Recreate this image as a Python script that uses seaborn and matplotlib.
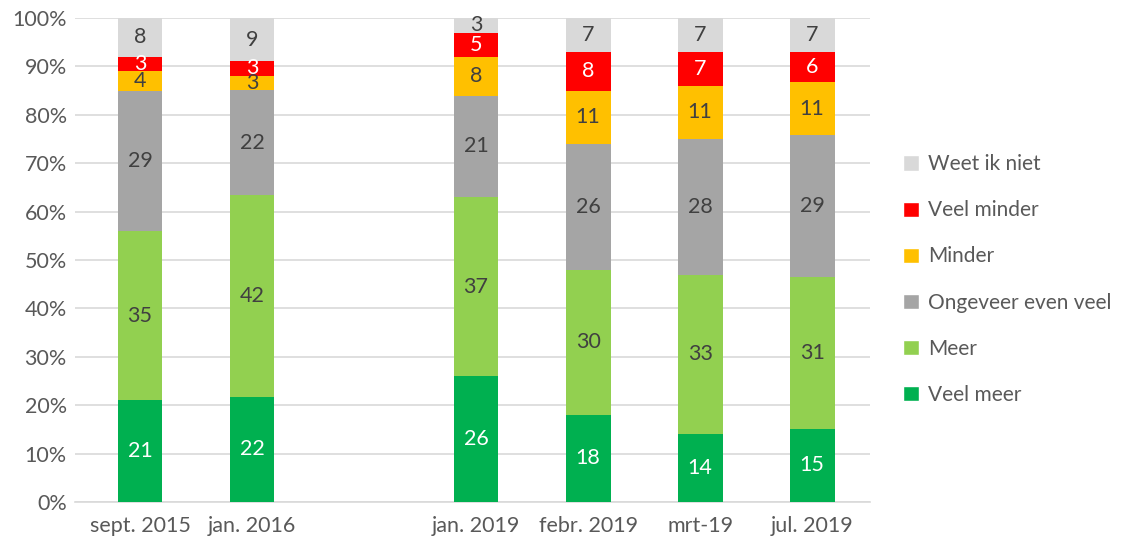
import numpy as np
import pandas as pd
import matplotlib
matplotlib.use("Agg")
import matplotlib.pyplot as plt
import matplotlib.patches as mpatches
import seaborn as sns

# categories (empty slot between 2016 and 2019)
periods = ["sept. 2015", "jan. 2016", "", "jan. 2019", "febr. 2019", "mrt-19", "jul. 2019"]
data_periods = ["sept. 2015", "jan. 2016", "jan. 2019", "febr. 2019", "mrt-19", "jul. 2019"]

series = ["Veel meer", "Meer", "Ongeveer even veel", "Minder", "Veel minder", "Weet ik niet"]
veel_meer = [21, 22, 26, 18, 14, 15]
meer = [35, 42, 37, 30, 33, 31]
ongeveer = [29, 22, 21, 26, 28, 29]
minder = [4, 3, 8, 11, 11, 11]
veel_minder = [3, 3, 5, 8, 7, 6]
weet_niet = [8, 9, 3, 7, 7, 7]

colors = ["#00B050", "#92D050", "#A5A5A5", "#FFC000", "#FF0000", "#D9D9D9"]
label_colors = ["white", "#404040", "#404040", "#404040", "white", "#404040"]

sns.set_theme(style="white")
plt.rcParams["font.family"] = ["Lato", "DejaVu Sans"]

raw = np.array([veel_meer, meer, ongeveer, minder, veel_minder, weet_niet], dtype=float)
pct = raw / raw.sum(axis=0) * 100

fig = plt.figure(figsize=(11.25, 5.48), dpi=100)
ax = fig.add_axes([0.0667, 0.084, 0.707, 0.883])

bottom = np.zeros(len(data_periods))
for i, name in enumerate(series):
    df = pd.DataFrame({"period": data_periods, "value": pct[i]})
    sns.barplot(data=df, x="period", y="value", order=periods, color=colors[i],
                bottom=bottom, width=0.4, ax=ax, saturation=1, zorder=3,
                linewidth=0, edgecolor="none")
    for j, p in enumerate(data_periods):
        xpos = periods.index(p)
        ax.text(xpos, bottom[j] + pct[i][j] / 2, f"{int(raw[i][j])}",
                ha="center", va="center", fontsize=15.5,
                color=label_colors[i], zorder=4)
    bottom = bottom + pct[i]

ax.set_xlim(-0.58, 6.52)
ax.set_ylim(0, 100)
ax.set_yticks(np.arange(0, 101, 10))
ax.set_yticklabels([f"{v}%" for v in range(0, 101, 10)])
ax.yaxis.grid(True, color="#D9D9D9", linewidth=1.2, zorder=0)
ax.set_axisbelow(True)
for s in ["top", "right", "left"]:
    ax.spines[s].set_visible(False)
ax.spines["bottom"].set_color("#D9D9D9")
ax.spines["bottom"].set_linewidth(1.2)
ax.set_xlabel("")
ax.set_ylabel("")
ax.tick_params(axis="both", length=0, labelsize=15.5, labelcolor="#595959")
ax.tick_params(axis="x", pad=10)
ax.tick_params(axis="y", pad=6)

handles = [mpatches.Patch(facecolor=colors[i], label=series[i]) for i in range(len(series))][::-1]
fig.legend(handles=handles, loc="center left", bbox_to_anchor=(0.786, 0.49),
           frameon=False, fontsize=15, labelcolor="#595959",
           handlelength=0.75, handleheight=0.75, handletextpad=0.45,
           labelspacing=1.25)

plt.savefig("out.png", dpi=100)
plt.close(fig)
